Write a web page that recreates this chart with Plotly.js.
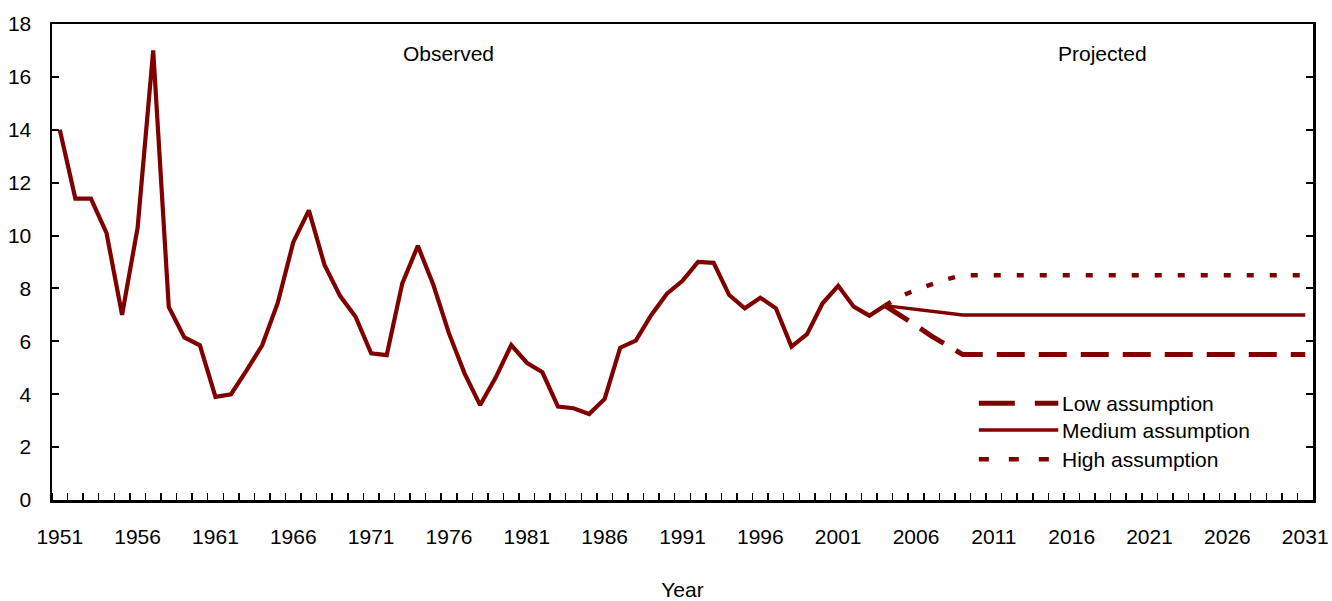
<!DOCTYPE html>
<html>
<head>
<meta charset="utf-8">
<script src="https://cdn.plot.ly/plotly-3.0.1.min.js"></script>
<style>
html,body{margin:0;padding:0;background:#fff;}
#chart{width:1332px;height:601px;}
</style>
</head>
<body>
<div id="chart"></div>
<script>
// Observed series
var obsYears = [1951,1952,1953,1954,1955,1956,1957,1958,1959,1960,1961,1962,1963,1964,1965,1966,1967,1968,1969,1970,
  1971,1972,1973,1974,1975,1976,1977,1978,1979,1980,1981,1982,1983,1984,1985,1986,1987,1988,1989,1990,
  1991,1992,1993,1994,1995,1996,1997,1998,1999,2000,2001,2002,2003,2004];
var obsValues = [14.0,11.4,11.4,10.1,7.0,10.3,17.0,7.3,6.15,5.85,3.9,4.0,4.9,5.85,7.45,9.75,10.95,8.9,7.72,6.93,
  5.55,5.48,8.19,9.61,8.13,6.3,4.79,3.59,4.63,5.86,5.19,4.83,3.53,3.47,3.25,3.82,5.76,6.03,7.0,7.8,
  8.29,9.0,8.97,7.75,7.25,7.65,7.25,5.8,6.27,7.44,8.1,7.31,6.97,7.35];

// Projection series
var projYears = [2004,2005,2006,2007,2008,2009,2010,2011,2012,2013,2014,2015,2016,2017,2018,2019,2020,
  2021,2022,2023,2024,2025,2026,2027,2028,2029,2030,2031];
var lowValues = [7.35,7.0,6.6,6.2,5.85,5.5,5.5,5.5,5.5,5.5,5.5,5.5,5.5,5.5,5.5,5.5,5.5,
  5.5,5.5,5.5,5.5,5.5,5.5,5.5,5.5,5.5,5.5,5.5];
var mediumValues = [7.35,7.28,7.21,7.14,7.07,7.0,7.0,7.0,7.0,7.0,7.0,7.0,7.0,7.0,7.0,7.0,7.0,
  7.0,7.0,7.0,7.0,7.0,7.0,7.0,7.0,7.0,7.0,7.0];
var highValues = [7.35,7.7,7.95,8.15,8.35,8.5,8.5,8.5,8.5,8.5,8.5,8.5,8.5,8.5,8.5,8.5,8.5,
  8.5,8.5,8.5,8.5,8.5,8.5,8.5,8.5,8.5,8.5,8.5];

// Labels
var seriesNames = ["Low assumption","Medium assumption","High assumption"];
var xTickYears = [1951,1956,1961,1966,1971,1976,1981,1986,1991,1996,2001,2006,2011,2016,2021,2026,2031];
var yTicks = [0,2,4,6,8,10,12,14,16,18];
var periodLabels = ["Observed","Projected"];
var periodX = [1976,2018];
var xTitle = "Year";

var red = "#800000";
var FONT = "Liberation Sans, Arial, Helvetica, sans-serif";
var FS = 21;

var traces = [
  {x: obsYears, y: obsValues, type: "scatter", mode: "lines", name: "Observed",
   line: {color: red, width: 4.2}, showlegend: false, hoverinfo: "x+y"},
  {x: projYears, y: lowValues, type: "scatter", mode: "lines", name: seriesNames[0],
   line: {color: red, width: 5, dash: "28px,14px"}, showlegend: false},
  {x: projYears, y: mediumValues, type: "scatter", mode: "lines", name: seriesNames[1],
   line: {color: red, width: 3.5}, showlegend: false},
  {x: projYears, y: highValues, type: "scatter", mode: "lines", name: seriesNames[2],
   line: {color: red, width: 4.5, dash: "7px,16px"}, showlegend: false}
];

// Manual legend (paper coords)
var legX0 = 0.735, legX1 = 0.798, legTextX = 0.799;
var legY = [0.203, 0.147, 0.0855];
var legDash = ["36px,20px", "solid", "10px,20px"];
var legWidth = [5, 3.5, 4.5];
var shapes = [], annotations = [];
for (var i = 0; i < 3; i++) {
  shapes.push({type: "line", xref: "paper", yref: "paper", x0: legX0, x1: legX1, y0: legY[i], y1: legY[i],
    line: {color: red, width: legWidth[i], dash: legDash[i]}});
  annotations.push({xref: "paper", yref: "paper", x: legTextX, y: legY[i], xanchor: "left", yanchor: "middle",
    text: seriesNames[i], showarrow: false, font: {family: FONT, size: FS, color: "#000"}});
}
for (var j = 0; j < periodLabels.length; j++) {
  annotations.push({xref: "x", yref: "y", x: periodX[j], y: 16.87, text: periodLabels[j], showarrow: false,
    xanchor: "center", yanchor: "middle", font: {family: FONT, size: FS, color: "#000"}});
}

var minorVals = [];
for (var k = 1950.5; k < 2031; k += 1) minorVals.push(k);

var layout = {
  width: 1332, height: 601,
  margin: {l: 52, r: 19, t: 24, b: 101},
  paper_bgcolor: "#fff", plot_bgcolor: "#fff",
  font: {family: FONT, size: FS, color: "#000"},
  xaxis: {
    range: [1950.5, 2031.5], tickmode: "array", tickvals: xTickYears, ticktext: xTickYears.map(String),
    ticks: "", showgrid: false, zeroline: false, showline: true, linecolor: "#000", linewidth: 2.5,
    mirror: true, ticklabelstandoff: 16, tickfont: {family: FONT, size: FS, color: "#000"},
    minor: {tickmode: "array", tickvals: minorVals, ticks: "inside", ticklen: 7, tickwidth: 1.5, tickcolor: "#000", showgrid: false},
    title: {text: xTitle, font: {family: FONT, size: FS, color: "#000"}, standoff: 45}
  },
  yaxis: {
    range: [0, 18], tickmode: "array", tickvals: yTicks, ticks: "inside", ticklen: 7, tickwidth: 2, tickcolor: "#000",
    showgrid: false, zeroline: false, showline: true, linecolor: "#000", linewidth: 2.5, mirror: "ticks",
    ticklabelstandoff: 14, tickfont: {family: FONT, size: FS, color: "#000"}
  },
  shapes: shapes,
  annotations: annotations,
  showlegend: false
};

Plotly.newPlot("chart", traces, layout, {displayModeBar: false, staticPlot: true});
</script>
</body>
</html>
